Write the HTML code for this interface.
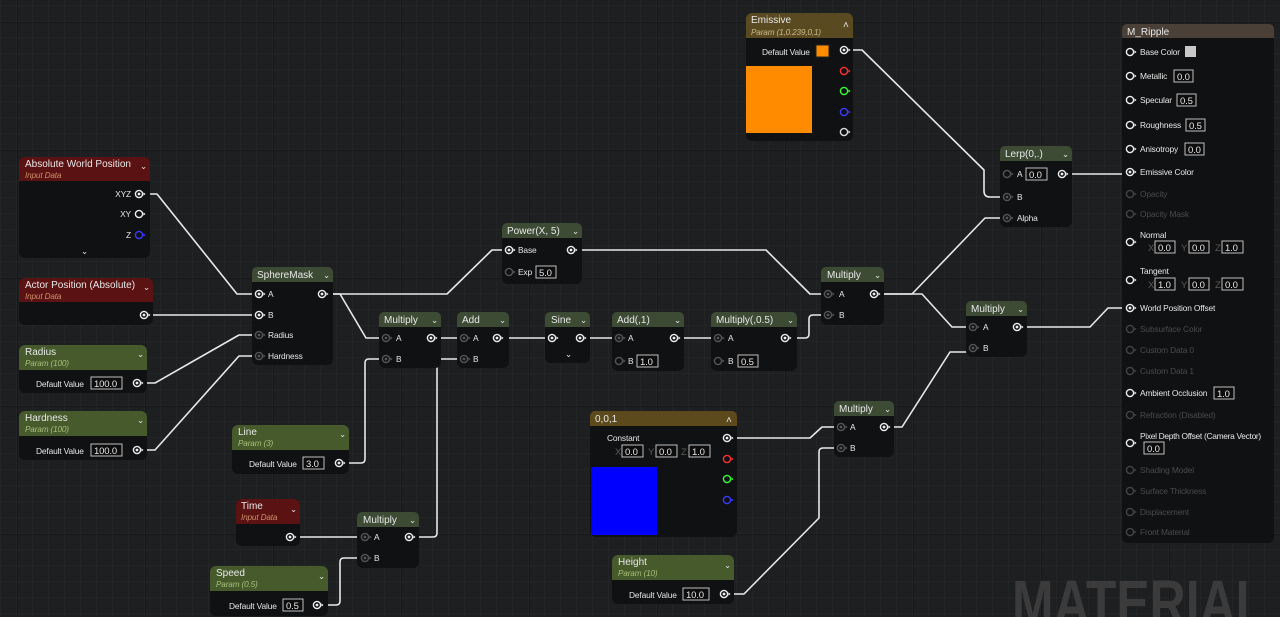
<!DOCTYPE html>
<html><head><meta charset="utf-8"><style>
html,body{margin:0;padding:0;background:#1e1f21;overflow:hidden}
svg{display:block}
text{font-family:"Liberation Sans",sans-serif;fill:#e6e6e6;font-size:8.4px;letter-spacing:-0.15px}
.h{font-size:10px;fill:#e8e8e8;letter-spacing:0}
.sr{font-size:8.2px;font-style:italic;fill:#c8916a}
.sg{font-size:8.2px;font-style:italic;fill:#a8bf7a}
.sy{font-size:8.2px;font-style:italic;fill:#cdb98a}
.d{fill:#5a5a5a}
.vb{fill:#0d0d0d;stroke:#bfbfbf;stroke-width:1}
.w{fill:none;stroke:#e8e8e8;stroke-width:1.6;stroke-linejoin:round}
.body{fill:#101112}
</style></head><body>
<svg width="1280" height="617" viewBox="0 0 1280 617" xmlns="http://www.w3.org/2000/svg">
<defs>
<pattern id="g" width="16" height="16" patternUnits="userSpaceOnUse" x="1" y="6">
<path d="M16 0V16M0 16H16" stroke="#27282b" stroke-width="1" fill="none"/>
</pattern>
<pattern id="G" width="128" height="128" patternUnits="userSpaceOnUse" x="17" y="22">
<path d="M0 0V128M0 0H128" stroke="#0d0d0e" stroke-width="1.5" fill="none"/>
</pattern>
<symbol id="pc" overflow="visible"><circle cx="0" cy="0" r="3.6" fill="none" stroke="currentColor" stroke-width="1.4"/><circle cx="0" cy="0" r="1.4" fill="currentColor"/><path d="M4.5 -1.6L6.5 0L4.5 1.6Z" fill="currentColor"/></symbol>
<symbol id="po" overflow="visible"><circle cx="0" cy="0" r="3.6" fill="none" stroke="currentColor" stroke-width="1.4"/><path d="M4.5 -1.6L6.5 0L4.5 1.6Z" fill="currentColor"/></symbol>
</defs>
<rect width="1280" height="617" fill="#1e1f21"/>
<rect width="1280" height="617" fill="url(#g)"/>
<rect width="1280" height="617" fill="url(#G)" opacity="0.6"/>

<text x="1012" y="625" style="font-size:64px;font-weight:bold;fill:#3b3b3c;letter-spacing:0" transform="translate(1012 0) scale(0.78 1) translate(-1012 0)">MATERIAL</text>

<g class="w">
<path d="M139,194 H157 L237,294 H259"/>
<path d="M144,315 H259"/>
<path d="M137,383 H155 L239,335 H259"/>
<path d="M137,450 H155 L239,356 H259"/>
<path d="M322,294 H447 L492,250 H509"/>
<path d="M322,294 H340 L366,338 H386"/>
<path d="M339,463 H361 Q365,463 365,459 V363 Q365,359 369,359 H386"/>
<path d="M431,338 H464"/>
<path d="M409,537 H433 Q437,537 437,533 V363 Q437,359 441,359 H464"/>
<path d="M290,537 H365"/>
<path d="M317,605 H336 Q340,605 340,601 V562 Q340,558 344,558 H365"/>
<path d="M497,338 H552"/>
<path d="M580,338 H619"/>
<path d="M674,338 H718"/>
<path d="M785,338 H805 Q809,338 809,334 V319 Q809,315 813,315 H828"/>
<path d="M571,250 H766 L810,294 H828"/>
<path d="M874,294 H912 L985,218 H1007"/>
<path d="M874,294 H922 L952,327 H973"/>
<path d="M844,50 H862 L984,170 V191 Q984,197 990,197 H1007"/>
<path d="M1062,174 H1130"/>
<path d="M727,438 H810 L822,427 H841"/>
<path d="M724,594 H744 L819,518 V452 Q819,448 823,448 H841"/>
<path d="M884,427 H902 L950,352 H973"/>
<path d="M1017,327 H1090 L1108,308 H1130"/>
</g>

<rect x="19" y="157" width="131" height="101" rx="6" class="body"/>
<rect x="19" y="157" width="131" height="24" rx="6" fill="#5b1212"/><rect x="19" y="175" width="131" height="6" fill="#5b1212"/>
<text x="25" y="167" class="h">Absolute World Position</text><text x="25" y="178" class="sr">Input Data</text>
<text x="140" y="169">⌄</text>
<text x="131" y="197" text-anchor="end">XYZ</text><use href="#pc" x="139" y="194" style="color:#eee"/>
<text x="131" y="217" text-anchor="end">XY</text><use href="#po" x="139" y="214" style="color:#eee"/>
<text x="131" y="238" text-anchor="end">Z</text><use href="#po" x="139" y="235" style="color:#3a3aff"/>
<text x="81" y="254">⌄</text>

<rect x="19" y="278" width="134" height="47" rx="6" class="body"/>
<rect x="19" y="278" width="134" height="24" rx="6" fill="#5b1212"/><rect x="19" y="296" width="134" height="6" fill="#5b1212"/>
<text x="25" y="288" class="h">Actor Position (Absolute)</text><text x="25" y="299" class="sr">Input Data</text>
<text x="143" y="290">⌄</text>
<use href="#pc" x="144" y="315" style="color:#eee"/>

<rect x="19" y="345" width="128" height="48" rx="6" class="body"/>
<rect x="19" y="345" width="128" height="25" rx="6" fill="#465a2c"/><rect x="19" y="364" width="128" height="6" fill="#465a2c"/>
<text x="25" y="355" class="h">Radius</text><text x="25" y="366" class="sg">Param (100)</text>
<text x="137" y="357">⌄</text>
<text x="36" y="387">Default Value</text><rect x="91" y="377" width="31" height="12" class="vb"/><text x="94" y="387" style="font-size:9.5px">100.0</text>
<use href="#pc" x="137" y="383" style="color:#eee"/>

<rect x="19" y="411" width="128" height="49" rx="6" class="body"/>
<rect x="19" y="411" width="128" height="25" rx="6" fill="#465a2c"/><rect x="19" y="430" width="128" height="6" fill="#465a2c"/>
<text x="25" y="421" class="h">Hardness</text><text x="25" y="432" class="sg">Param (100)</text>
<text x="137" y="423">⌄</text>
<text x="36" y="454">Default Value</text><rect x="91" y="444" width="31" height="12" class="vb"/><text x="94" y="454" style="font-size:9.5px">100.0</text>
<use href="#pc" x="137" y="450" style="color:#eee"/>

<rect x="252" y="267" width="81" height="98" rx="6" class="body"/>
<rect x="252" y="267" width="81" height="15" rx="5" fill="#3d4b35"/><rect x="252" y="277" width="81" height="5" fill="#3d4b35"/>
<text x="257" y="278" class="h">SphereMask</text><text x="323" y="278">⌄</text>
<use href="#pc" x="259" y="294" style="color:#eee"/><text x="268" y="297">A</text>
<use href="#pc" x="259" y="315" style="color:#eee"/><text x="268" y="318">B</text>
<use href="#pc" x="259" y="335" style="color:#555"/><text x="268" y="338">Radius</text>
<use href="#pc" x="259" y="356" style="color:#555"/><text x="268" y="359">Hardness</text>
<use href="#pc" x="322" y="294" style="color:#eee"/>

<rect x="502" y="223" width="80" height="61" rx="6" class="body"/>
<rect x="502" y="223" width="80" height="15" rx="5" fill="#3d4b35"/><rect x="502" y="233" width="80" height="5" fill="#3d4b35"/>
<text x="507" y="234" class="h">Power(X, 5)</text><text x="572" y="234">⌄</text>
<use href="#pc" x="509" y="250" style="color:#eee"/><text x="518" y="253">Base</text>
<use href="#po" x="509" y="272" style="color:#555"/><text x="518" y="275">Exp</text>
<rect x="536" y="266" width="20" height="12" class="vb"/><text x="539" y="276" style="font-size:9.5px">5.0</text>
<use href="#pc" x="571" y="250" style="color:#eee"/>

<rect x="379" y="312" width="62" height="56" rx="6" class="body"/>
<rect x="379" y="312" width="62" height="15" rx="5" fill="#3d4b35"/><rect x="379" y="322" width="62" height="5" fill="#3d4b35"/>
<text x="384" y="323" class="h">Multiply</text><text x="431" y="323">⌄</text>
<use href="#pc" x="386" y="338" style="color:#555"/><text x="396" y="341">A</text>
<use href="#pc" x="386" y="359" style="color:#555"/><text x="396" y="362">B</text>
<use href="#pc" x="431" y="338" style="color:#eee"/>

<rect x="457" y="312" width="52" height="56" rx="6" class="body"/>
<rect x="457" y="312" width="52" height="15" rx="5" fill="#3d4b35"/><rect x="457" y="322" width="52" height="5" fill="#3d4b35"/>
<text x="462" y="323" class="h">Add</text><text x="499" y="323">⌄</text>
<use href="#pc" x="464" y="338" style="color:#555"/><text x="473" y="341">A</text>
<use href="#pc" x="464" y="359" style="color:#555"/><text x="473" y="362">B</text>
<use href="#pc" x="497" y="338" style="color:#eee"/>

<rect x="545" y="312" width="45" height="51" rx="6" class="body"/>
<rect x="545" y="312" width="45" height="15" rx="5" fill="#3d4b35"/><rect x="545" y="322" width="45" height="5" fill="#3d4b35"/>
<text x="551" y="323" class="h">Sine</text><text x="580" y="323">⌄</text>
<use href="#pc" x="552" y="338" style="color:#eee"/><use href="#pc" x="580" y="338" style="color:#eee"/>
<text x="565" y="357">⌄</text>

<rect x="612" y="312" width="72" height="59" rx="6" class="body"/>
<rect x="612" y="312" width="72" height="15" rx="5" fill="#3d4b35"/><rect x="612" y="322" width="72" height="5" fill="#3d4b35"/>
<text x="617" y="323" class="h">Add(,1)</text><text x="674" y="323">⌄</text>
<use href="#pc" x="619" y="338" style="color:#555"/><text x="628" y="341">A</text>
<use href="#po" x="619" y="361" style="color:#555"/><text x="628" y="364">B</text>
<rect x="637" y="355" width="21" height="12" class="vb"/><text x="640" y="365" style="font-size:9.5px">1.0</text>
<use href="#pc" x="674" y="338" style="color:#eee"/>

<rect x="711" y="312" width="86" height="59" rx="6" class="body"/>
<rect x="711" y="312" width="86" height="15" rx="5" fill="#3d4b35"/><rect x="711" y="322" width="86" height="5" fill="#3d4b35"/>
<text x="716" y="323" class="h">Multiply(,0.5)</text><text x="787" y="323">⌄</text>
<use href="#pc" x="718" y="338" style="color:#555"/><text x="728" y="341">A</text>
<use href="#po" x="718" y="361" style="color:#555"/><text x="728" y="364">B</text>
<rect x="738" y="355" width="20" height="12" class="vb"/><text x="741" y="365" style="font-size:9.5px">0.5</text>
<use href="#pc" x="785" y="338" style="color:#eee"/>

<rect x="821" y="267" width="63" height="58" rx="6" class="body"/>
<rect x="821" y="267" width="63" height="15" rx="5" fill="#3d4b35"/><rect x="821" y="277" width="63" height="5" fill="#3d4b35"/>
<text x="827" y="278" class="h">Multiply</text><text x="874" y="278">⌄</text>
<use href="#pc" x="828" y="294" style="color:#555"/><text x="839" y="297">A</text>
<use href="#pc" x="828" y="315" style="color:#555"/><text x="839" y="318">B</text>
<use href="#pc" x="874" y="294" style="color:#eee"/>

<rect x="1000" y="146" width="72" height="81" rx="6" class="body"/>
<rect x="1000" y="146" width="72" height="15" rx="5" fill="#3d4b35"/><rect x="1000" y="156" width="72" height="5" fill="#3d4b35"/>
<text x="1005" y="157" class="h">Lerp(0,.)</text><text x="1062" y="157">⌄</text>
<use href="#po" x="1007" y="174" style="color:#555"/><text x="1017" y="177">A</text>
<rect x="1026" y="168" width="21" height="12" class="vb"/><text x="1029" y="178" style="font-size:9.5px">0.0</text>
<use href="#pc" x="1007" y="197" style="color:#555"/><text x="1017" y="200">B</text>
<use href="#pc" x="1007" y="218" style="color:#555"/><text x="1017" y="221">Alpha</text>
<use href="#pc" x="1062" y="174" style="color:#eee"/>

<rect x="746" y="13" width="107" height="128" rx="6" class="body"/>
<rect x="746" y="13" width="107" height="25" rx="6" fill="#5a4a22"/><rect x="746" y="32" width="107" height="6" fill="#5a4a22"/>
<text x="751" y="23" class="h">Emissive</text><text x="751" y="35" class="sy">Param (1,0.239,0,1)</text>
<text x="843" y="28" style="font-size:10px">˄</text>
<text x="762" y="55">Default Value</text><rect x="816" y="45" width="13" height="12" fill="#ff8c00" stroke="#222"/>
<rect x="746" y="66" width="66" height="67" fill="#ff8c00"/>
<use href="#pc" x="844" y="50" style="color:#eee"/>
<use href="#po" x="844" y="71" style="color:#ff3030"/>
<use href="#po" x="844" y="91" style="color:#30ff30"/>
<use href="#po" x="844" y="112" style="color:#3a3aff"/>
<use href="#po" x="844" y="132" style="color:#ddd"/>

<rect x="966" y="301" width="61" height="56" rx="6" class="body"/>
<rect x="966" y="301" width="61" height="15" rx="5" fill="#3d4b35"/><rect x="966" y="311" width="61" height="5" fill="#3d4b35"/>
<text x="971" y="312" class="h">Multiply</text><text x="1017" y="312">⌄</text>
<use href="#pc" x="973" y="327" style="color:#555"/><text x="983" y="330">A</text>
<use href="#pc" x="973" y="348" style="color:#555"/><text x="983" y="351">B</text>
<use href="#pc" x="1017" y="327" style="color:#eee"/>

<rect x="232" y="425" width="117" height="49" rx="6" class="body"/>
<rect x="232" y="425" width="117" height="25" rx="6" fill="#465a2c"/><rect x="232" y="444" width="117" height="6" fill="#465a2c"/>
<text x="238" y="435" class="h">Line</text><text x="238" y="446" class="sg">Param (3)</text>
<text x="339" y="437">⌄</text>
<text x="249" y="467">Default Value</text><rect x="303" y="457" width="21" height="12" class="vb"/><text x="306" y="467" style="font-size:9.5px">3.0</text>
<use href="#pc" x="339" y="463" style="color:#eee"/>

<rect x="236" y="499" width="64" height="47" rx="6" class="body"/>
<rect x="236" y="499" width="64" height="25" rx="6" fill="#5b1212"/><rect x="236" y="518" width="64" height="6" fill="#5b1212"/>
<text x="241" y="509" class="h">Time</text><text x="241" y="520" class="sr">Input Data</text>
<text x="290" y="512">⌄</text>
<use href="#pc" x="290" y="537" style="color:#eee"/>

<rect x="357" y="512" width="62" height="56" rx="6" class="body"/>
<rect x="357" y="512" width="62" height="15" rx="5" fill="#3d4b35"/><rect x="357" y="522" width="62" height="5" fill="#3d4b35"/>
<text x="363" y="523" class="h">Multiply</text><text x="409" y="523">⌄</text>
<use href="#pc" x="365" y="537" style="color:#555"/><text x="374" y="540">A</text>
<use href="#pc" x="365" y="558" style="color:#555"/><text x="374" y="561">B</text>
<use href="#pc" x="409" y="537" style="color:#eee"/>

<rect x="210" y="566" width="118" height="50" rx="6" class="body"/>
<rect x="210" y="566" width="118" height="25" rx="6" fill="#465a2c"/><rect x="210" y="585" width="118" height="6" fill="#465a2c"/>
<text x="216" y="576" class="h">Speed</text><text x="216" y="587" class="sg">Param (0.5)</text>
<text x="318" y="579">⌄</text>
<text x="229" y="609">Default Value</text><rect x="283" y="599" width="20" height="12" class="vb"/><text x="286" y="609" style="font-size:9.5px">0.5</text>
<use href="#pc" x="317" y="605" style="color:#eee"/>

<rect x="590" y="411" width="147" height="126" rx="6" class="body"/>
<rect x="590" y="411" width="147" height="15" rx="5" fill="#5c4a1c"/><rect x="590" y="421" width="147" height="5" fill="#5c4a1c"/>
<text x="595" y="422" class="h">0,0,1</text><text x="726" y="423" style="font-size:10px">˄</text>
<text x="607" y="441">Constant</text>
<text x="615" y="455" class="d" style="font-size:9.5px">X</text><rect x="622" y="445" width="21" height="12" class="vb"/><text x="625" y="455" style="font-size:9.5px">0.0</text>
<text x="648" y="455" class="d" style="font-size:9.5px">Y</text><rect x="656" y="445" width="21" height="12" class="vb"/><text x="659" y="455" style="font-size:9.5px">0.0</text>
<text x="681" y="455" class="d" style="font-size:9.5px">Z</text><rect x="689" y="445" width="21" height="12" class="vb"/><text x="692" y="455" style="font-size:9.5px">1.0</text>
<rect x="591" y="467" width="66" height="68" fill="#0000ff"/>
<use href="#pc" x="727" y="438" style="color:#eee"/>
<use href="#po" x="727" y="459" style="color:#ff3030"/>
<use href="#po" x="727" y="479" style="color:#30ff30"/>
<use href="#po" x="727" y="500" style="color:#3a3aff"/>

<rect x="834" y="401" width="60" height="56" rx="6" class="body"/>
<rect x="834" y="401" width="60" height="15" rx="5" fill="#3d4b35"/><rect x="834" y="411" width="60" height="5" fill="#3d4b35"/>
<text x="839" y="412" class="h">Multiply</text><text x="884" y="412">⌄</text>
<use href="#pc" x="841" y="427" style="color:#555"/><text x="850" y="430">A</text>
<use href="#pc" x="841" y="448" style="color:#555"/><text x="850" y="451">B</text>
<use href="#pc" x="884" y="427" style="color:#eee"/>

<rect x="612" y="555" width="122" height="49" rx="6" class="body"/>
<rect x="612" y="555" width="122" height="25" rx="6" fill="#465a2c"/><rect x="612" y="574" width="122" height="6" fill="#465a2c"/>
<text x="618" y="565" class="h">Height</text><text x="618" y="576" class="sg">Param (10)</text>
<text x="724" y="568">⌄</text>
<text x="629" y="598">Default Value</text><rect x="683" y="588" width="26" height="12" class="vb"/><text x="686" y="598" style="font-size:9.5px">10.0</text>
<use href="#pc" x="724" y="594" style="color:#eee"/>

<rect x="1122" y="24" width="152" height="519" rx="6" class="body"/>
<rect x="1122" y="24" width="152" height="14" rx="5" fill="#4a4038"/><rect x="1122" y="33" width="152" height="5" fill="#4a4038"/>
<text x="1127" y="35" class="h">M_Ripple</text>
<use href="#po" x="1130" y="52" style="color:#eee"/><text x="1140" y="55">Base Color</text><rect x="1185" y="46" width="11" height="11" fill="#c8c8c8"/>
<use href="#po" x="1130" y="76" style="color:#eee"/><text x="1140" y="79">Metallic</text><rect x="1174" y="70" width="19" height="12" class="vb"/><text x="1177" y="80" style="font-size:9.5px">0.0</text>
<use href="#po" x="1130" y="100" style="color:#eee"/><text x="1140" y="103">Specular</text><rect x="1177" y="94" width="19" height="12" class="vb"/><text x="1180" y="104" style="font-size:9.5px">0.5</text>
<use href="#po" x="1130" y="125" style="color:#eee"/><text x="1140" y="128">Roughness</text><rect x="1186" y="119" width="19" height="12" class="vb"/><text x="1189" y="129" style="font-size:9.5px">0.5</text>
<use href="#po" x="1130" y="149" style="color:#eee"/><text x="1140" y="152">Anisotropy</text><rect x="1185" y="143" width="19" height="12" class="vb"/><text x="1188" y="153" style="font-size:9.5px">0.0</text>
<use href="#pc" x="1130" y="172" style="color:#eee"/><text x="1140" y="175">Emissive Color</text>
<use href="#po" x="1130" y="194" style="color:#444"/><text x="1140" y="197" style="fill:#4a4a4a">Opacity</text>
<use href="#po" x="1130" y="214" style="color:#444"/><text x="1140" y="217" style="fill:#4a4a4a">Opacity Mask</text>
<text x="1140" y="238">Normal</text><use href="#po" x="1130" y="242" style="color:#eee"/>
<text x="1148" y="251" class="d" style="font-size:9.5px">X</text><rect x="1155" y="241" width="20" height="12" class="vb"/><text x="1158" y="251" style="font-size:9.5px">0.0</text>
<text x="1181" y="251" class="d" style="font-size:9.5px">Y</text><rect x="1189" y="241" width="20" height="12" class="vb"/><text x="1192" y="251" style="font-size:9.5px">0.0</text>
<text x="1215" y="251" class="d" style="font-size:9.5px">Z</text><rect x="1222" y="241" width="21" height="12" class="vb"/><text x="1225" y="251" style="font-size:9.5px">1.0</text>
<text x="1140" y="274">Tangent</text><use href="#po" x="1130" y="280" style="color:#eee"/>
<text x="1148" y="288" class="d" style="font-size:9.5px">X</text><rect x="1155" y="278" width="20" height="12" class="vb"/><text x="1158" y="288" style="font-size:9.5px">1.0</text>
<text x="1181" y="288" class="d" style="font-size:9.5px">Y</text><rect x="1189" y="278" width="20" height="12" class="vb"/><text x="1192" y="288" style="font-size:9.5px">0.0</text>
<text x="1215" y="288" class="d" style="font-size:9.5px">Z</text><rect x="1222" y="278" width="21" height="12" class="vb"/><text x="1225" y="288" style="font-size:9.5px">0.0</text>
<use href="#pc" x="1130" y="308" style="color:#eee"/><text x="1140" y="311">World Position Offset</text>
<use href="#po" x="1130" y="329" style="color:#444"/><text x="1140" y="332" style="fill:#4a4a4a">Subsurface Color</text>
<use href="#po" x="1130" y="350" style="color:#444"/><text x="1140" y="353" style="fill:#4a4a4a">Custom Data 0</text>
<use href="#po" x="1130" y="371" style="color:#444"/><text x="1140" y="374" style="fill:#4a4a4a">Custom Data 1</text>
<use href="#po" x="1130" y="393" style="color:#eee"/><text x="1140" y="396">Ambient Occlusion</text><rect x="1214" y="387" width="20" height="12" class="vb"/><text x="1217" y="397" style="font-size:9.5px">1.0</text>
<use href="#po" x="1130" y="415" style="color:#444"/><text x="1140" y="418" style="fill:#4a4a4a">Refraction (Disabled)</text>
<text x="1140" y="439" style="letter-spacing:-0.3px">Pixel Depth Offset (Camera Vector)</text><use href="#po" x="1130" y="443" style="color:#eee"/>
<rect x="1144" y="442" width="20" height="12" class="vb"/><text x="1147" y="452" style="font-size:9.5px">0.0</text>
<use href="#po" x="1130" y="470" style="color:#444"/><text x="1140" y="473" style="fill:#4a4a4a">Shading Model</text>
<use href="#po" x="1130" y="491" style="color:#444"/><text x="1140" y="494" style="fill:#4a4a4a">Surface Thickness</text>
<use href="#po" x="1130" y="512" style="color:#444"/><text x="1140" y="515" style="fill:#4a4a4a">Displacement</text>
<use href="#po" x="1130" y="532" style="color:#444"/><text x="1140" y="535" style="fill:#4a4a4a">Front Material</text>
</svg>
</body></html>
